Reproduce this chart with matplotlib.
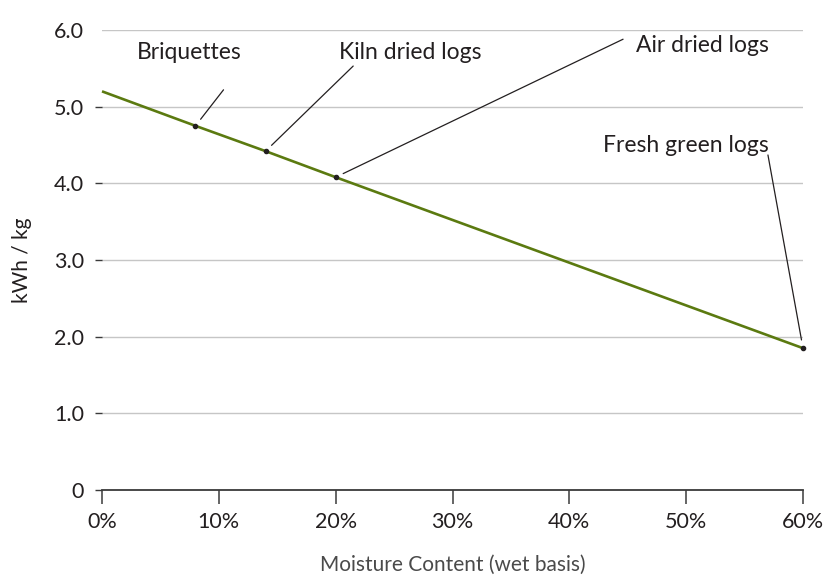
import matplotlib
matplotlib.use("Agg")
import matplotlib.pyplot as plt

# --- data ---
moisture = [0, 8, 14, 20, 60]            # % wet basis
energy = [5.2, 4.75, 4.42, 4.08, 1.85]   # kWh / kg
fuel_names = ["Briquettes", "Kiln dried logs", "Air dried logs", "Fresh green logs"]
fuel_moisture = [8, 14, 20, 60]
fuel_energy = [4.75, 4.42, 4.08, 1.85]
x_ticks = [0, 10, 20, 30, 40, 50, 60]
y_ticks = [0, 1, 2, 3, 4, 5, 6]

# label placement (text centre, leader start) in data units
label_pos = [(7.5, 5.71), (26.4, 5.71), (51.4, 5.80), (50.0, 4.50)]
leader_start = [(10.4, 5.22), (21.5, 5.53), (44.6, 5.88), (57.0, 4.37)]

plt.rcParams['font.family'] = ['Lato', 'DejaVu Sans']
dark = '#231f20'

fig = plt.figure(figsize=(8.28, 5.76), dpi=100)
ax = fig.add_axes([0.1232, 0.1493, 0.8466, 0.7986])

ax.plot(moisture, energy, color='#5b7a10', lw=1.9, zorder=3, clip_on=False,
        solid_capstyle='butt')
ax.scatter(fuel_moisture, fuel_energy, s=9, color=dark, zorder=4, clip_on=False)

for name, (tx, ty), (sx, sy), px, py in zip(fuel_names, label_pos, leader_start,
                                            fuel_moisture, fuel_energy):
    ax.text(tx, ty, name, ha='center', va='center', fontsize=16.5, color=dark)
    ax.annotate('', xy=(px, py), xytext=(sx, sy),
                arrowprops=dict(arrowstyle='-', color=dark, lw=0.9,
                                shrinkA=0, shrinkB=6),
                annotation_clip=False)

ax.set_xlim(0, 60)
ax.set_ylim(0, 6)
ax.set_xticks(x_ticks)
ax.set_xticklabels([f"{v}%" for v in x_ticks])
ax.set_yticks(y_ticks)
ax.set_yticklabels(["0"] + [f"{v:.1f}" for v in y_ticks[1:]])

ax.grid(axis='y', color='#c6c6c6', lw=1.0)
ax.set_axisbelow(True)
for s in ['top', 'right', 'left']:
    ax.spines[s].set_visible(False)
ax.spines['bottom'].set_color('#3a3a3a')
ax.spines['bottom'].set_linewidth(1.3)

ax.tick_params(axis='x', length=10, width=1.1, color='#3a3a3a', pad=6,
               labelsize=15.5, labelcolor=dark)
ax.tick_params(axis='y', length=5, width=1.0, color='#3a3a3a', pad=8,
               labelsize=15.5, labelcolor=dark)
ax.yaxis.get_major_ticks()[-1].tick1line.set_visible(False)

ax.set_xlabel("Moisture Content (wet basis)", fontsize=15, color='#4a4a4a',
              labelpad=16)
ax.set_ylabel("kWh / kg", fontsize=15, color=dark, labelpad=16)

fig.savefig("out.png", dpi=100)
